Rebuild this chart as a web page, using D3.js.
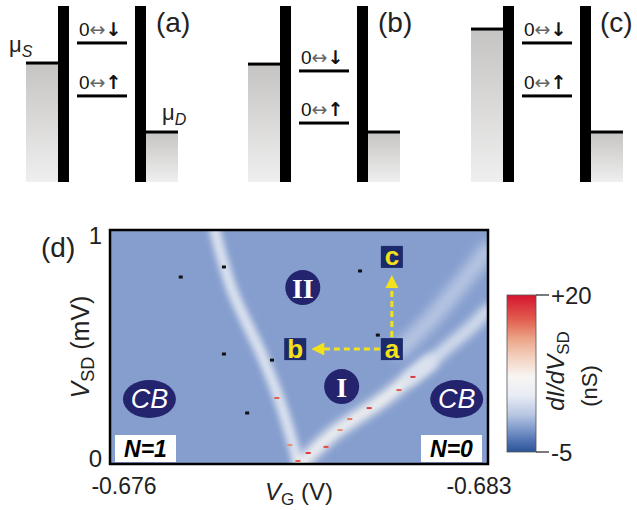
<!DOCTYPE html>
<html>
<head>
<meta charset="utf-8">
<script src="https://cdn.jsdelivr.net/npm/d3@7"></script>
<style>
body { margin: 0; background: #fff; }
svg { display: block; font-family: "Liberation Sans", Arial, sans-serif; }
</style>
</head>
<body>
<svg id="fig" width="637" height="510"></svg>
<script>

// ---- panels (a)-(c) : energies as a fraction of the panel height
const panelNames = ["(a)", "(b)", "(c)"];
const muS       = [0.676, 0.670, 0.869];
const levelDown = [0.790, 0.631, 0.790];
const levelUp   = [0.489, 0.335, 0.489];
const muD       = [0.284, 0.284, 0.284];

// ---- panel (d) : dI/dV map, VG in V, VSD in mV, values in nS
const vgRange  = [-0.676, -0.683];
const vsdRange = [0, 1];
const vgTicks  = [-0.676, -0.683];
const vsdTicks = [0, 1];
const backgroundG = -1.1;

// conductance ridges [VG, VSD]
const ridgeLeft  = [[-0.67794, 1.00], [-0.67826, 0.744], [-0.67881, 0.466], [-0.67915, 0.265], [-0.67948, 0.009]];
const ridgeRightLow = [[-0.67955, 0.000], [-0.67970, 0.038], [-0.68017, 0.137], [-0.68063, 0.209], [-0.68109, 0.282], [-0.68156, 0.368], [-0.68193, 0.436]];
const ridgeRightHigh = [[-0.68156, 0.368], [-0.68193, 0.436], [-0.68230, 0.509], [-0.68267, 0.581], [-0.68300, 0.658]];
const ridgeFaint = [[-0.68137, 0.487], [-0.68193, 0.615], [-0.68248, 0.765], [-0.68300, 0.915]];
const ridgeValues = [3.5, 6.5, 3, 1];

// single hot / dead pixels [VG, VSD, G]
const hotSpots = [[-0.68161, 0.372, 18], [-0.68135, 0.316, 16], [-0.68080, 0.239, 18], [-0.68044, 0.192, 15],
                  [-0.68026, 0.145, 14], [-0.68000, 0.073, 17], [-0.67967, 0.047, 18], [-0.67948, 0.013, 16],
                  [-0.67933, 0.081, 14], [-0.67909, 0.282, 16]];
const deadSpots = [[-0.67811, 0.842], [-0.67731, 0.799], [-0.67811, 0.470], [-0.67900, 0.444],
                   [-0.67854, 0.218], [-0.68063, 0.825], [-0.68096, 0.551]];

// region labels [text, VG, VSD]
const regions   = [["II", -0.67957, 0.754], ["I", -0.68029, 0.331]];
const cbLabels  = [["CB", -0.67673, 0.278], ["CB", -0.68242, 0.278]];
const biasPts   = [["a", -0.68122, 0.491], ["b", -0.67943, 0.491], ["c", -0.68122, 0.885]];

// colour bar
const cStops  = [-5, -3, -1, 1, 4, 7, 10, 13, 16, 20];
const cColors = ["#2a5496", "#5677b5", "#87a0cf", "#b9c7e3", "#e8ecf4", "#f7f5f3", "#f3d2c0", "#eca588", "#e2604f", "#d5152f"];
const cTicks  = [[20, "+20"], [-5, "-5"]];

const svg = d3.select("#fig");
const defs = svg.append("defs");

// ================= energy diagrams
const yE = d3.scaleLinear().domain([0, 1]).range([182, 6]);
const panelX = [26, 248, 471];

const grad = defs.append("linearGradient").attr("id", "lead")
  .attr("x1", 0).attr("y1", 0).attr("x2", 0).attr("y2", 1);
grad.append("stop").attr("offset", 0).attr("stop-color", "#c6c4c2");
grad.append("stop").attr("offset", 1).attr("stop-color", "#efefef");

panelNames.forEach((name, i) => {
  const g = svg.append("g").attr("transform", `translate(${panelX[i]},0)`);

  // source
  g.append("rect").attr("x", 0).attr("width", 32)
    .attr("y", yE(muS[i])).attr("height", yE(0) - yE(muS[i]))
    .attr("fill", "url(#lead)");
  g.append("rect").attr("x", 0).attr("width", 33)
    .attr("y", yE(muS[i]) - 1.5).attr("height", 3).attr("fill", "#000");

  // drain
  g.append("rect").attr("x", 120).attr("width", 32)
    .attr("y", yE(muD[i])).attr("height", yE(0) - yE(muD[i]))
    .attr("fill", "url(#lead)");
  g.append("rect").attr("x", 119).attr("width", 33)
    .attr("y", yE(muD[i]) - 1.5).attr("height", 3).attr("fill", "#000");

  // barriers
  g.append("rect").attr("x", 32).attr("width", 11).attr("y", yE(1)).attr("height", yE(0) - yE(1)).attr("fill", "#000");
  g.append("rect").attr("x", 109).attr("width", 11).attr("y", yE(1)).attr("height", yE(0) - yE(1)).attr("fill", "#000");

  // dot levels
  [[levelDown[i], "\u2193"], [levelUp[i], "\u2191"]].forEach(([lv, arrow]) => {
    g.append("rect").attr("x", 51).attr("width", 50)
      .attr("y", yE(lv) - 1.5).attr("height", 3).attr("fill", "#000");
    const t = g.append("text").attr("x", 53).attr("y", yE(lv) - 7)
      .attr("font-size", 19).attr("fill", "#111");
    t.append("tspan").text("0");
    t.append("tspan").attr("font-family", "DejaVu Sans").attr("fill", "#666").attr("font-size", 19).text("\u2194");
    t.append("tspan").attr("font-family", "DejaVu Sans").attr("font-weight", "bold").attr("font-size", 19).text(arrow);
  });

  g.append("text").attr("x", i == 2 ? 129 : 130).attr("y", 32)
    .attr("font-size", 28).attr("fill", "#222").text(name);

  if (i == 0) {
    const s = g.append("text").attr("x", -17).attr("y", yE(muS[i]) - 11).attr("font-size", 22).attr("fill", "#222");
    s.append("tspan").text("\u03bc");
    s.append("tspan").attr("dy", 5).attr("font-size", 16).attr("font-style", "italic").text("S");
    const d = g.append("text").attr("x", 136).attr("y", yE(muD[i]) - 12).attr("font-size", 22).attr("fill", "#222");
    d.append("tspan").text("\u03bc");
    d.append("tspan").attr("dy", 5).attr("font-size", 16).attr("font-style", "italic").text("D");
  }
});

// ================= map (d)
const x = d3.scaleLinear().domain(vgRange).range([110, 488]);
const y = d3.scaleLinear().domain(vsdRange).range([464, 230]);
const color = d3.scaleLinear().domain(cStops).range(cColors).interpolate(d3.interpolateRgb);

defs.append("clipPath").attr("id", "plotClip")
  .append("rect").attr("x", x(vgRange[0])).attr("y", y(1))
  .attr("width", x(vgRange[1]) - x(vgRange[0])).attr("height", y(0) - y(1));

[3, 4, 5.5].forEach((sd, k) => {
  defs.append("filter").attr("id", "blur" + k)
    .attr("x", "-30%").attr("y", "-30%").attr("width", "160%").attr("height", "160%")
    .append("feGaussianBlur").attr("stdDeviation", sd);
});

const map = svg.append("g").attr("clip-path", "url(#plotClip)");

map.append("rect").attr("x", x(vgRange[0])).attr("y", y(1))
  .attr("width", x(vgRange[1]) - x(vgRange[0])).attr("height", y(0) - y(1))
  .attr("fill", color(backgroundG));

const line = d3.line().x(d => x(d[0])).y(d => y(d[1])).curve(d3.curveCatmullRom);
const ridges = [ridgeLeft, ridgeRightLow, ridgeRightHigh, ridgeFaint];
const ridgeW = [11, 14, 13, 17];
const ridgeBlur = [0, 1, 1, 2];
ridges.forEach((r, i) => {
  map.append("path").attr("d", line(r))
    .attr("fill", "none")
    .attr("stroke", color(ridgeValues[i]))
    .attr("stroke-width", ridgeW[i])
    .attr("stroke-linecap", "round")
    .attr("opacity", 0.95)
    .attr("filter", `url(#blur${ridgeBlur[i]})`);
});

map.selectAll(".hot").data(hotSpots).join("rect")
  .attr("x", d => x(d[0]) - 2.5).attr("y", d => y(d[1]) - 1)
  .attr("width", 5).attr("height", 2).attr("fill", d => color(d[2]));
map.selectAll(".dead").data(deadSpots).join("rect")
  .attr("x", d => x(d[0]) - 2).attr("y", d => y(d[1]) - 1.5)
  .attr("width", 4).attr("height", 3).attr("fill", "#111");

// ellipse labels
const navy = "#24236e";
regions.forEach(([t, vg, vsd]) => {
  map.append("circle").attr("cx", x(vg)).attr("cy", y(vsd)).attr("r", 17.5).attr("fill", navy);
  map.append("text").attr("x", x(vg)).attr("y", y(vsd) + 10)
    .attr("text-anchor", "middle").attr("fill", "#fff")
    .attr("font-family", "Liberation Serif, Times New Roman, serif")
    .attr("font-weight", "bold").attr("font-size", 28).text(t);
});
cbLabels.forEach(([t, vg, vsd]) => {
  map.append("ellipse").attr("cx", x(vg)).attr("cy", y(vsd)).attr("rx", 26.5).attr("ry", 19).attr("fill", navy);
  map.append("text").attr("x", x(vg)).attr("y", y(vsd) + 9.5)
    .attr("text-anchor", "middle").attr("fill", "#fff")
    .attr("font-style", "italic").attr("font-size", 27).text(t);
});

// bias arrows a -> b and a -> c
const yellow = "#f3e11c";
const pa = biasPts[0], pb = biasPts[1], pc = biasPts[2];
const ax = x(pa[1]), ay = y(pa[2]);
map.append("line").attr("x1", ax - 12).attr("y1", ay).attr("x2", x(pb[1]) + 27).attr("y2", ay)
  .attr("stroke", yellow).attr("stroke-width", 3).attr("stroke-dasharray", "6,4");
map.append("path")
  .attr("d", `M${x(pb[1]) + 16},${ay} L${x(pb[1]) + 29},${ay - 6.5} L${x(pb[1]) + 29},${ay + 6.5} Z`)
  .attr("fill", yellow);
map.append("line").attr("x1", ax).attr("y1", ay - 12).attr("x2", ax).attr("y2", y(pc[2]) + 28)
  .attr("stroke", yellow).attr("stroke-width", 3).attr("stroke-dasharray", "6,4");
map.append("path")
  .attr("d", `M${ax},${y(pc[2]) + 18} L${ax - 6.5},${y(pc[2]) + 31} L${ax + 6.5},${y(pc[2]) + 31} Z`)
  .attr("fill", yellow);

biasPts.forEach(([t, vg, vsd]) => {
  map.append("rect").attr("x", x(vg) - 11).attr("y", y(vsd) - 11)
    .attr("width", 22).attr("height", 22).attr("fill", "#1c2a6c");
  map.append("text").attr("x", x(vg)).attr("y", y(vsd) + 8.5)
    .attr("text-anchor", "middle").attr("fill", yellow)
    .attr("font-weight", "bold").attr("font-size", 26).text(t);
});

// occupation boxes
[["N=1", x(vgRange[0]) + 5], ["N=0", x(vgRange[1]) - 67]].forEach(([t, bx]) => {
  map.append("rect").attr("x", bx).attr("y", y(0) - 29).attr("width", 61).attr("height", 27).attr("fill", "#fff");
  map.append("text").attr("x", bx + 30.5).attr("y", y(0) - 7)
    .attr("text-anchor", "middle").attr("font-weight", "bold").attr("font-style", "italic")
    .attr("font-size", 23).attr("fill", "#000").text(t);
});

svg.append("rect").attr("x", x(vgRange[0])).attr("y", y(1))
  .attr("width", x(vgRange[1]) - x(vgRange[0])).attr("height", y(0) - y(1))
  .attr("fill", "none").attr("stroke", "#000").attr("stroke-width", 2.5);

// tick labels
svg.selectAll(".vsdTick").data(vsdTicks).join("text")
  .attr("x", x(vgRange[0]) - 8).attr("y", d => d == 1 ? y(d) + 14 : y(d) + 3)
  .attr("text-anchor", "end").attr("font-size", 24).attr("fill", "#222").text(d => d);
svg.selectAll(".vgTick").data(vgTicks).join("text")
  .attr("x", (d, i) => x(d) + (i == 0 ? 14 : -9)).attr("y", 494)
  .attr("text-anchor", "middle").attr("font-size", 23).attr("fill", "#222").text(d => d.toFixed(3));

const xl = svg.append("text").attr("x", 299).attr("y", 500).attr("text-anchor", "middle")
  .attr("font-size", 24).attr("fill", "#222");
xl.append("tspan").attr("font-style", "italic").text("V");
xl.append("tspan").attr("dy", 5).attr("font-size", 17).text("G");
xl.append("tspan").attr("dy", -5).text(" (V)");

const yl = svg.append("text").attr("transform", "translate(89,347) rotate(-90)")
  .attr("text-anchor", "middle").attr("font-size", 25).attr("fill", "#222");
yl.append("tspan").attr("font-style", "italic").text("V");
yl.append("tspan").attr("dy", 5).attr("font-size", 18).text("SD");
yl.append("tspan").attr("dy", -5).text(" (mV)");

svg.append("text").attr("x", 41).attr("y", 257).attr("font-size", 28).attr("fill", "#222").text("(d)");

// ================= colour bar
const cy = d3.scaleLinear().domain([-5, 20]).range([452, 295]);
const cg = defs.append("linearGradient").attr("id", "cbar")
  .attr("x1", 0).attr("y1", 1).attr("x2", 0).attr("y2", 0);
cStops.forEach((v, i) => {
  cg.append("stop").attr("offset", (v + 5) / 25).attr("stop-color", cColors[i]);
});
svg.append("rect").attr("x", 507).attr("y", cy(20)).attr("width", 29).attr("height", cy(-5) - cy(20))
  .attr("fill", "url(#cbar)").attr("stroke", "#555").attr("stroke-width", 0.8);
cTicks.forEach(([v, t]) => {
  svg.append("line").attr("x1", 536).attr("x2", 549).attr("y1", cy(v)).attr("y2", cy(v))
    .attr("stroke", "#222").attr("stroke-width", 1.2);
  svg.append("text").attr("x", 551).attr("y", cy(v) + 9).attr("font-size", 24).attr("fill", "#222").text(t);
});
const cl = svg.append("text").attr("transform", "translate(564,371) rotate(-90)")
  .attr("text-anchor", "middle").attr("font-size", 24).attr("fill", "#222");
cl.append("tspan").attr("font-style", "italic").text("dI/dV");
cl.append("tspan").attr("dy", 5).attr("font-size", 17).text("SD");
svg.append("text").attr("transform", "translate(597,386) rotate(-90)")
  .attr("text-anchor", "middle").attr("font-size", 22).attr("fill", "#222").text("(nS)");

</script>
</body>
</html>
